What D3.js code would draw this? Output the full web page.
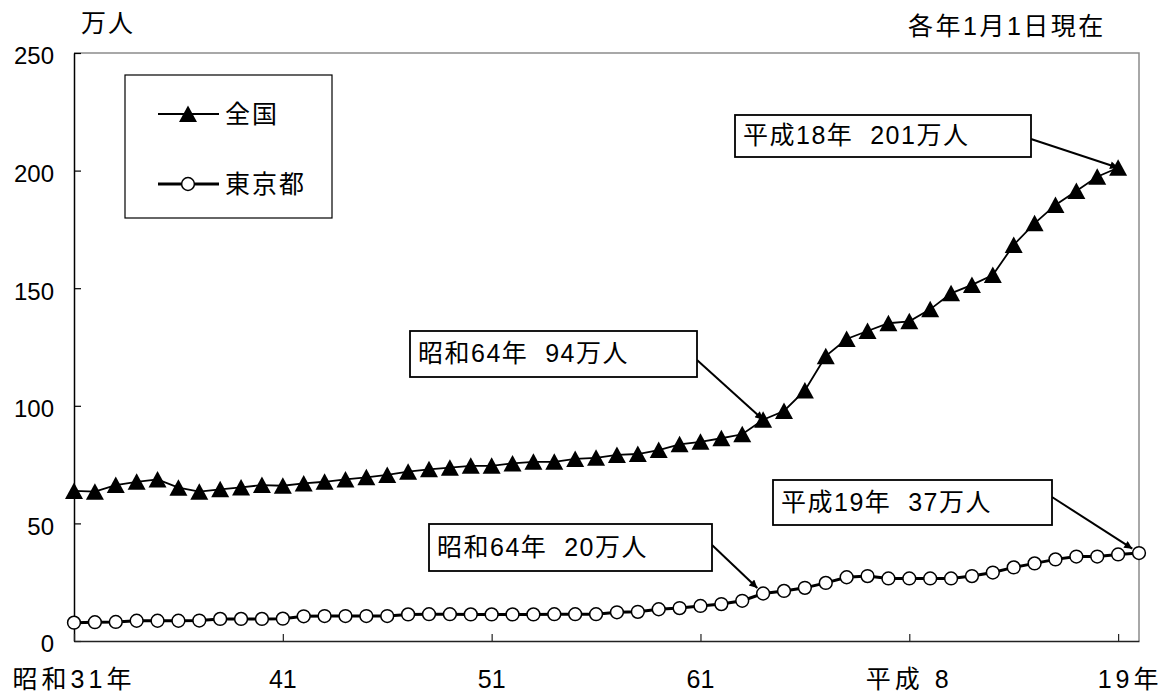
<!DOCTYPE html>
<html>
<head>
<meta charset="utf-8">
<script src="https://cdn.jsdelivr.net/npm/d3@7"></script>
<style>
  html, body { margin: 0; padding: 0; background: #fff; }
  svg text { font-family: "Liberation Sans", Arial, "Noto Sans CJK JP", sans-serif; fill: #000; }
</style>
</head>
<body>
<svg id="chart" width="1168" height="695"></svg>
<script>
// Years as of January 1 (Showa 31 to Showa 64, then Heisei 2 to Heisei 19)
const years = [];
for (let y = 31; y <= 64; y++) years.push("昭和" + y);
for (let y = 2; y <= 19; y++) years.push("平成" + y);

// Registered foreign residents, in units of 10,000 people
const national = [
  63.8, 63.5, 66.3, 67.7, 68.7, 65.2, 63.5, 64.5, 65.3, 66.3,
  66.0, 67.0, 67.7, 68.7, 69.6, 70.6, 72.0, 73.0, 73.7, 74.5,
  74.5, 75.5, 76.2, 76.2, 77.4, 77.9, 79.1, 79.5, 81.2, 83.6,
  84.7, 86.2, 87.9, 94.1, 97.8, 106.5, 121.1, 128.4, 131.8, 135.1,
  135.9, 141.0, 147.8, 151.4, 155.6, 168.4, 177.6, 185.4, 191.3, 197.4,
  201.2
];
const tokyo = [
  7.8, 8.0, 8.1, 8.6, 8.6, 8.6, 8.7, 9.4, 9.4, 9.4,
  9.5, 10.5, 10.6, 10.6, 10.6, 10.6, 11.3, 11.4, 11.4, 11.3,
  11.3, 11.3, 11.3, 11.4, 11.4, 11.4, 12.2, 12.4, 13.5, 14.0,
  14.9, 15.7, 17.1, 20.2, 21.3, 22.6, 24.7, 27.1, 27.6, 26.6,
  26.6, 26.6, 26.6, 27.6, 29.1, 31.3, 33.0, 34.7, 35.9, 35.9,
  36.8, 37.4
];

const seriesNames = ["全国", "東京都"];
const yTicks = [0, 50, 100, 150, 200, 250];
const xTickIndex = [0, 10, 20, 30, 40, 50];
const xTickLabels = ["昭和31年", "41", "51", "61", "平成\u00a08", "19年"];

// Callouts: which series, which year index, and the text shown
const callouts = [
  { series: "national", index: 33, text: "昭和64年\u00a0\u00a094万人" },
  { series: "national", index: 50, text: "平成18年\u00a0\u00a0201万人" },
  { series: "tokyo",    index: 33, text: "昭和64年\u00a0\u00a020万人" },
  { series: "tokyo",    index: 51, text: "平成19年\u00a0\u00a037万人" }
];

const svg = d3.select("#chart");
const plot = { left: 74, right: 1139, top: 53, bottom: 641 };

const x = d3.scaleLinear().domain([0, years.length - 1]).range([plot.left, plot.right]);
const y = d3.scaleLinear().domain([0, 250]).range([plot.bottom, plot.top]);

// Frame: top and right edges in grey
svg.append("path")
  .attr("d", `M${plot.left},${plot.top}H${plot.right}V${plot.bottom}`)
  .attr("fill", "none").attr("stroke", "#8c8c8c").attr("stroke-width", 1.5);

// Y axis with inward ticks
const yAxis = svg.append("g").attr("transform", `translate(${plot.left},0)`)
  .call(d3.axisLeft(y).tickValues(yTicks).tickSize(-7).tickSizeOuter(0).tickPadding(20));
yAxis.select(".domain").attr("stroke", "#000").attr("stroke-width", 1.5);
yAxis.selectAll(".tick line").attr("stroke", "#000").attr("stroke-width", 1.2);
yAxis.selectAll(".tick text").attr("font-size", 24).attr("font-family", null).attr("dy", "0.45em");

// X axis with inward ticks, labels handled separately
const xAxis = svg.append("g").attr("transform", `translate(0,${plot.bottom})`)
  .call(d3.axisBottom(x).tickValues(xTickIndex).tickSize(-7).tickSizeOuter(0).tickFormat(""));
xAxis.select(".domain").attr("stroke", "#222").attr("stroke-width", 1.5);
xAxis.selectAll(".tick line").attr("stroke", "#222").attr("stroke-width", 1.2);

svg.append("g").selectAll("text")
  .data(xTickIndex)
  .join("text")
  .attr("x", (d, i) => x(d) + (i === xTickIndex.length - 1 ? 12 : 0))
  .attr("y", 688)
  .attr("text-anchor", "middle")
  .attr("font-size", 25)
  .attr("letter-spacing", (d, i) => /[^\x00-\x7f]/.test(xTickLabels[i]) ? 4 : 0)
  .text((d, i) => xTickLabels[i]);

// Unit label and date note
svg.append("text").attr("x", 81).attr("y", 32).attr("font-size", 25).attr("letter-spacing", 2).text("万人");
svg.append("text").attr("x", 908).attr("y", 35).attr("font-size", 25).attr("letter-spacing", 2.5).text("各年1月1日現在");

// Arrowhead
svg.append("defs").append("marker")
  .attr("id", "arrow").attr("viewBox", "0 0 10 10")
  .attr("refX", 10).attr("refY", 5)
  .attr("markerWidth", 11).attr("markerHeight", 8)
  .attr("markerUnits", "userSpaceOnUse")
  .attr("orient", "auto")
  .append("path").attr("d", "M0,0L10,5L0,10Z").attr("fill", "#000");

// Callout boxes (drawn beneath the series markers)
const boxLayout = [
  { x: 410, y: 331, w: 287, h: 46, sy: 360, shorten: 0 },
  { x: 735, y: 115, w: 296, h: 42, sy: 139, shorten: 0 },
  { x: 429, y: 524, w: 283, h: 47, sy: 545, shorten: 8 },
  { x: 773, y: 480, w: 279, h: 45, sy: 497, shorten: 8 }
];
const seriesData = { national, tokyo };
const cg = svg.append("g");
callouts.forEach((c, i) => {
  const b = boxLayout[i];
  const tx = x(c.index), ty = y(seriesData[c.series][c.index]);
  const sx = b.x + b.w;
  const dx = tx - sx, dy = ty - b.sy, len = Math.hypot(dx, dy);
  const ex = tx - dx / len * b.shorten, ey = ty - dy / len * b.shorten;
  cg.append("line")
    .attr("x1", sx).attr("y1", b.sy).attr("x2", ex).attr("y2", ey)
    .attr("stroke", "#000").attr("stroke-width", 2)
    .attr("marker-end", "url(#arrow)");
  cg.append("rect")
    .attr("x", b.x).attr("y", b.y).attr("width", b.w).attr("height", b.h)
    .attr("fill", "#fff").attr("stroke", "#000").attr("stroke-width", 1.8);
  cg.append("text")
    .attr("x", b.x + 8).attr("y", b.y + b.h / 2 + 8)
    .attr("font-size", 25).attr("letter-spacing", 1.5)
    .text(c.text);
});

// Series lines
const line = d3.line().x((d, i) => x(i)).y(d => y(d));
svg.append("path").datum(national).attr("d", line)
  .attr("fill", "none").attr("stroke", "#000").attr("stroke-width", 1.8);
svg.append("path").datum(tokyo).attr("d", line)
  .attr("fill", "none").attr("stroke", "#000").attr("stroke-width", 3);

// Markers
const tri = "M0,-8.5L9,8L-9,8Z";
svg.append("g").selectAll("path")
  .data(national).join("path")
  .attr("transform", (d, i) => `translate(${x(i)},${y(d)})`)
  .attr("d", tri).attr("fill", "#000");
svg.append("g").selectAll("circle")
  .data(tokyo).join("circle")
  .attr("cx", (d, i) => x(i)).attr("cy", d => y(d)).attr("r", 6.4)
  .attr("fill", "#fff").attr("stroke", "#000").attr("stroke-width", 1.5);

// Legend
const lg = svg.append("g");
lg.append("rect").attr("x", 125).attr("y", 75).attr("width", 207).attr("height", 143)
  .attr("fill", "#fff").attr("stroke", "#000").attr("stroke-width", 1.2);
const legendRows = [
  { name: seriesNames[0], y: 114, width: 1.8, shape: "tri" },
  { name: seriesNames[1], y: 184, width: 3, shape: "circle" }
];
legendRows.forEach(r => {
  lg.append("line").attr("x1", 158).attr("x2", 219).attr("y1", r.y).attr("y2", r.y)
    .attr("stroke", "#000").attr("stroke-width", r.width);
  if (r.shape === "tri") {
    lg.append("path").attr("transform", `translate(188,${r.y})`).attr("d", tri).attr("fill", "#000");
  } else {
    lg.append("circle").attr("cx", 188).attr("cy", r.y).attr("r", 6.4)
      .attr("fill", "#fff").attr("stroke", "#000").attr("stroke-width", 1.5);
  }
  lg.append("text").attr("x", 225).attr("y", r.y + 9).attr("font-size", 25)
    .attr("letter-spacing", 2).text(r.name);
});
</script>
</body>
</html>
